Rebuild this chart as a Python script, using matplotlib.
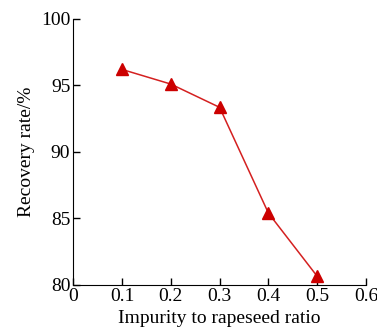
import matplotlib
matplotlib.use("Agg")
import matplotlib.pyplot as plt

ratio = [0.1, 0.2, 0.3, 0.4, 0.5]
recovery = [96.2, 95.1, 93.35, 85.4, 80.65]
xticks = [0, 0.1, 0.2, 0.3, 0.4, 0.5, 0.6]
xticklabels = ["0", "0.1", "0.2", "0.3", "0.4", "0.5", "0.6"]
yticks = [80, 85, 90, 95, 100]

plt.rcParams["font.family"] = ["Liberation Serif", "DejaVu Serif"]

fig = plt.figure(figsize=(3.77, 3.31), dpi=100)
ax = fig.add_axes([0.194, 0.139, 0.777, 0.804])
ax.plot(ratio, recovery, color="#d42020", lw=1.1, marker="^",
        markersize=8, markerfacecolor="#cc0000", markeredgecolor="#cc0000")
ax.set_xlim(0, 0.6)
ax.set_ylim(80, 100)
ax.set_xticks(xticks)
ax.set_xticklabels(xticklabels)
ax.set_yticks(yticks)
ax.spines["top"].set_visible(False)
ax.spines["right"].set_visible(False)
ax.tick_params(direction="in", length=5, width=1, labelsize=14, pad=2)
ax.set_xlabel("Impurity to rapeseed ratio", fontsize=14, labelpad=4)
ax.set_ylabel("Recovery rate/%", fontsize=14, labelpad=4)
fig.savefig("out.png", dpi=100)
